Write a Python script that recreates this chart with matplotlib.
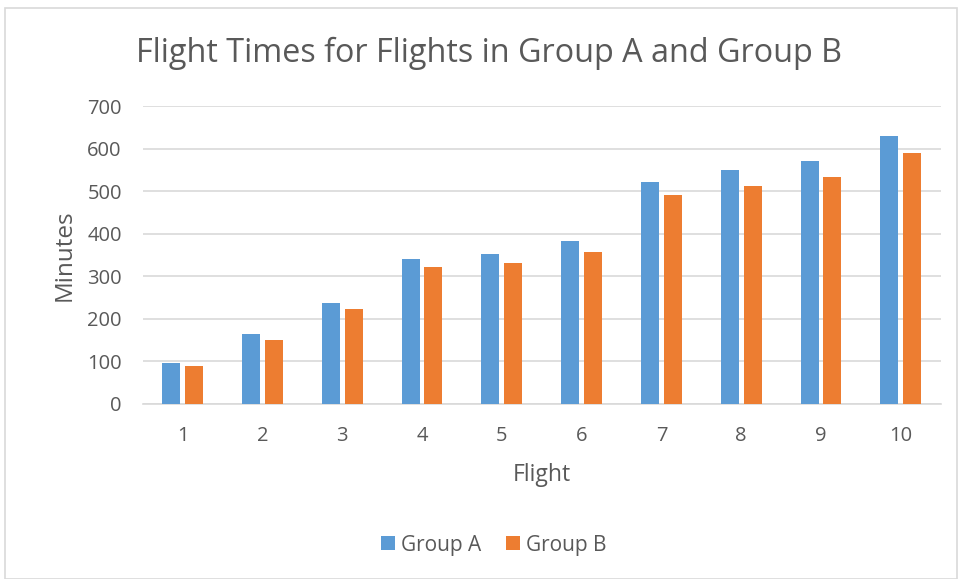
import matplotlib
matplotlib.use("Agg")
import matplotlib.pyplot as plt
import numpy as np
from matplotlib.patches import Rectangle

flights = ["1", "2", "3", "4", "5", "6", "7", "8", "9", "10"]
group_a = [97, 164, 238, 340, 352, 383, 522, 550, 571, 630]
group_b = [90, 149, 224, 321, 330, 357, 491, 511, 532, 590]
y_ticks = [0, 100, 200, 300, 400, 500, 600, 700]

plt.rcParams['font.family'] = ['Open Sans', 'DejaVu Sans']
text_color = '#595959'
grid_color = '#D9D9D9'
blue = '#5B9BD5'
orange = '#ED7D31'

W, H = 958, 579
fig = plt.figure(figsize=(W / 100, H / 100), dpi=100)
fig.patch.set_facecolor('white')

# chart border
fig.patches.append(Rectangle((5 / W, 0), (W - 6) / W, (H - 8) / H,
                             transform=fig.transFigure, fill=False,
                             edgecolor=grid_color, linewidth=1.2))

left, right = 142.7, 940.7
top, bottom = 106.0, 403.8
ax = fig.add_axes([left / W, 1 - bottom / H, (right - left) / W, (bottom - top) / H])

x = np.arange(len(flights))
bw = 0.226
gap = 0.058
ax.bar(x - (bw + gap) / 2, group_a, width=bw, color=blue, label='Group A', zorder=3)
ax.bar(x + (bw + gap) / 2, group_b, width=bw, color=orange, label='Group B', zorder=3)

ax.set_xlim(-0.5, len(flights) - 0.5)
ax.set_ylim(0, 700)
ax.set_yticks(y_ticks)
ax.set_xticks(x)
ax.set_xticklabels(flights)
ax.yaxis.grid(True, color=grid_color, linewidth=1.2, zorder=0)
ax.set_axisbelow(True)
for s in ['top', 'right', 'left']:
    ax.spines[s].set_visible(False)
ax.spines['bottom'].set_color(grid_color)
ax.spines['bottom'].set_linewidth(1.2)
ax.tick_params(axis='both', length=0, labelsize=14.5, colors=text_color)
ax.tick_params(axis='y', pad=15)
ax.tick_params(axis='x', pad=16)

ax.set_xlabel('Flight', fontsize=16.5, color=text_color, labelpad=12)
ax.set_ylabel('Minutes', fontsize=17.5, color=text_color, labelpad=8)

fig.text(489 / W, 1 - 53 / H, 'Flight Times for Flights in Group A and Group B',
         ha='center', va='center', fontsize=23.3, color=text_color)

leg = fig.legend(loc='center', bbox_to_anchor=(494 / W, 1 - 545 / H), ncol=2,
                 frameon=False, fontsize=15, handlelength=0.65, handleheight=0.65,
                 handletextpad=0.3, columnspacing=1.2)
for t in leg.get_texts():
    t.set_color(text_color)

fig.savefig('out.png', dpi=100, facecolor='white')
